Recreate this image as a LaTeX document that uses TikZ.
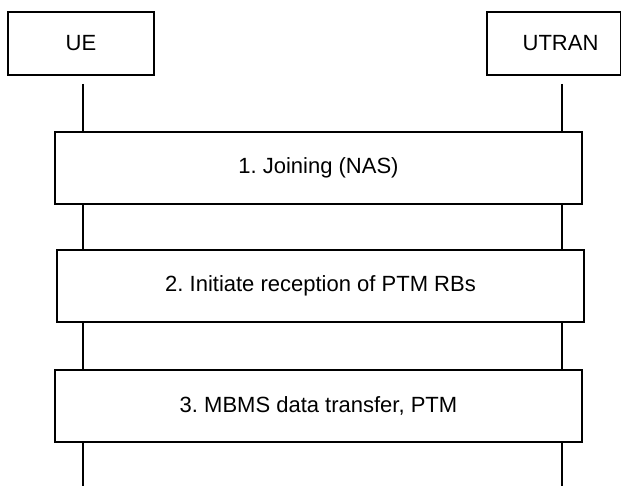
\documentclass[tikz,border=0pt]{standalone}
\usepackage{fontspec}
\setmainfont{Liberation Sans}
\frenchspacing
\begin{document}
\begin{tikzpicture}[x=1pt,y=-1pt,
  every node/.style={font=\fontsize{22}{26}\selectfont},
  actor/.style={draw, line width=1.2pt, fill=white, minimum height=63pt, inner sep=0pt},
  procbox/.style={draw, line width=1.2pt, fill=white, minimum width=527pt, minimum height=72pt, inner sep=0pt},
  life/.style={line width=1.2pt}]
\useasboundingbox (0,0) rectangle (621,486);
\node[actor, minimum width=146pt] (ue) at (81,43.5) {UE};
\node[actor, minimum width=134pt] (utran) at (554,43.5) {\hspace*{13pt}UTRAN};
\node[procbox] (b1) at (318.5,168) {1. Joining (NAS)};
\node[procbox] (b2) at (320.5,286) {2. Initiate reception of PTM RBs};
\node[procbox] (b3) at (318.5,406) {3. MBMS data transfer, PTM};
\coordinate (ueTop) at (83,84);
\coordinate (ueBot) at (83,486);
\coordinate (utTop) at (562,84);
\coordinate (utBot) at (562,486);
\draw[life] (ueTop) -- (ueTop |- b1.north);
\draw[life] (ueTop |- b1.south) -- (ueTop |- b2.north);
\draw[life] (ueTop |- b2.south) -- (ueTop |- b3.north);
\draw[life] (ueTop |- b3.south) -- (ueBot);
\draw[life] (utTop) -- (utTop |- b1.north);
\draw[life] (utTop |- b1.south) -- (utTop |- b2.north);
\draw[life] (utTop |- b2.south) -- (utTop |- b3.north);
\draw[life] (utTop |- b3.south) -- (utBot);
\end{tikzpicture}
\end{document}
